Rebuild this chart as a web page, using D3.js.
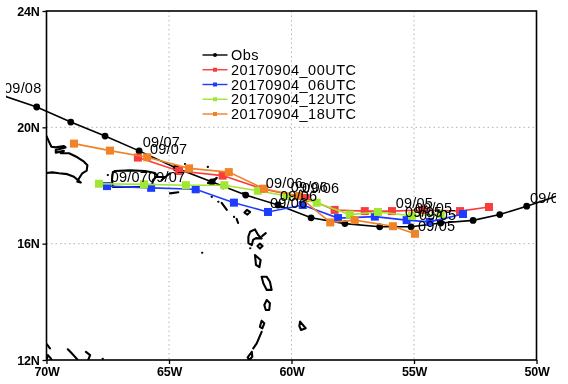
<!DOCTYPE html>
<html>
<head>
<meta charset="utf-8">
<script src="https://cdnjs.cloudflare.com/ajax/libs/d3/7.9.0/d3.min.js"></script>
<style>
  html, body { margin: 0; padding: 0; background: #fff; }
  svg { display: block; filter: blur(0.35px); }
  text { font-family: "Liberation Sans", Arial, sans-serif; fill: #000; }
  .track-label { font-size: 14.5px; letter-spacing: 0.2px; }
  .legend-label { font-size: 14.5px; letter-spacing: 0.5px; }
  .tick text { font-size: 12.5px; font-weight: bold; letter-spacing: -0.2px; }
</style>
</head>
<body>
<svg class="track-map" width="568" height="384"></svg>
<script>
// [lon, lat], west longitude negative
const obsTrack = [[-71.78, 21.09], [-70.40, 20.70], [-69.01, 20.18], [-67.61, 19.70], [-66.22, 19.19], [-64.71, 18.60], [-63.24, 18.12], [-61.87, 17.67], [-60.55, 17.33], [-59.20, 16.89], [-57.82, 16.69], [-56.40, 16.58], [-55.12, 16.58], [-53.91, 16.71], [-52.59, 16.80], [-51.50, 17.00], [-50.40, 17.29], [-49.04, 17.67]];
const track00 = [[-66.27, 18.96], [-64.59, 18.50], [-62.81, 18.34], [-61.16, 17.88], [-59.42, 17.57], [-58.24, 17.16], [-57.01, 17.12], [-55.90, 17.12], [-54.67, 17.16], [-53.12, 17.12], [-51.94, 17.26]];
const track06 = [[-67.53, 17.98], [-65.73, 17.92], [-63.91, 17.87], [-62.35, 17.41], [-60.96, 17.09], [-59.54, 17.33], [-58.10, 16.88], [-56.60, 16.93], [-55.30, 16.81], [-54.36, 16.75], [-53.00, 17.02]];
const track12 = [[-67.86, 18.06], [-66.02, 18.04], [-64.31, 18.01], [-62.74, 18.01], [-61.37, 17.82], [-60.20, 17.64], [-58.97, 17.41], [-57.62, 17.00], [-56.47, 17.09], [-55.08, 16.96], [-53.91, 17.02]];
const track18 = [[-68.88, 19.44], [-67.41, 19.20], [-65.89, 18.97], [-64.18, 18.59], [-62.56, 18.46], [-61.12, 17.89], [-59.72, 17.64], [-58.42, 16.73], [-57.42, 16.81], [-55.86, 16.60], [-54.96, 16.34]];

const seriesNames = ['Obs', '20170904_00UTC', '20170904_06UTC', '20170904_12UTC', '20170904_18UTC'];
const seriesColors = ['#000000', '#fa3c3c', '#1e3cff', '#a0e632', '#f08228'];
const seriesTracks = [obsTrack, track00, track06, track12, track18];

const lonTicks = [-70, -65, -60, -55, -50];
const latTicks = [24, 20, 16, 12];
const lonGrid = [-65, -60, -55];
const latGrid = [20, 16];

// date labels, [text, lon, lat] of the start of the text baseline
const dateLabels = [
  ['09/08', -71.73, 21.19],
  ['09/07', -66.07, 19.32], ['09/07', -65.78, 19.08], ['09/07', -67.38, 18.13], ['09/07', -65.86, 18.13],
  ['09/06', -61.05, 17.90], ['09/06', -60.03, 17.76], ['09/06', -59.57, 17.74], ['09/06', -60.88, 17.23], ['09/06', -60.47, 17.47],
  ['09/05', -55.75, 17.23], ['09/05', -54.96, 17.06], ['09/05', -54.80, 16.81], ['09/05', -54.84, 16.45], ['09/05', -55.37, 16.92],
  ['09/04', -50.27, 17.40]
];

// coast outlines
const coastlines = [
  [[-70.00, 19.70], [-69.90, 19.51], [-69.80, 19.33], [-69.62, 19.31], [-69.29, 19.36], [-69.22, 19.31], [-69.62, 19.22], [-69.62, 19.13], [-69.29, 19.19], [-69.42, 19.11], [-69.08, 19.11], [-68.74, 18.97], [-68.47, 18.82], [-68.33, 18.70], [-68.36, 18.51], [-68.54, 18.42], [-68.67, 18.25], [-68.74, 18.13], [-68.60, 18.10], [-68.88, 18.30], [-69.15, 18.39], [-69.49, 18.42], [-69.76, 18.45], [-70.00, 18.43]],
  [[-67.29, 18.46], [-67.20, 18.50], [-66.59, 18.52], [-65.98, 18.50], [-65.57, 18.43], [-65.49, 18.33], [-65.65, 18.19], [-65.69, 18.02], [-66.18, 17.95], [-66.80, 17.95], [-67.29, 17.95], [-67.33, 18.19], [-67.29, 18.46]],
  [[-65.30, 18.19], [-64.96, 18.42]],
  [[-65.57, 18.29], [-65.16, 18.29]],
  [[-64.96, 17.73], [-64.62, 17.77]],
  [[-67.50, 18.36], [-67.49, 18.36]],
  [[-64.35, 18.74], [-64.34, 18.74]],
  [[-63.42, 18.64], [-63.41, 18.64]],
  [[-63.41, 18.09], [-63.05, 18.26], [-63.30, 18.05], [-63.41, 18.09]],
  [[-62.85, 17.95], [-62.80, 17.90]],
  [[-63.26, 17.61], [-63.25, 17.61]],
  [[-62.99, 17.44], [-62.98, 17.44]],
  [[-62.85, 17.40], [-62.64, 17.16]],
  [[-62.35, 16.92], [-62.34, 16.92]],
  [[-62.24, 16.85], [-62.18, 16.71]],
  [[-61.92, 17.07], [-61.82, 17.16], [-61.69, 17.09], [-61.80, 17.00], [-61.92, 17.07]],
  [[-61.98, 17.74], [-61.78, 17.64]],
  [[-61.76, 16.24], [-61.69, 16.41], [-61.49, 16.49], [-61.36, 16.30], [-61.22, 16.18], [-61.45, 16.19], [-61.57, 16.13], [-61.62, 15.95], [-61.76, 16.02], [-61.76, 16.24]],
  [[-61.20, 16.26], [-61.05, 16.36]],
  [[-61.39, 15.92], [-61.29, 16.00], [-61.18, 15.92], [-61.29, 15.83], [-61.39, 15.92]],
  [[-61.69, 15.84], [-61.68, 15.84]],
  [[-63.65, 15.69], [-63.64, 15.69]],
  [[-61.49, 15.61], [-61.26, 15.44], [-61.31, 15.19], [-61.45, 15.27], [-61.49, 15.61]],
  [[-61.22, 14.86], [-61.01, 14.86], [-60.88, 14.69], [-60.81, 14.41], [-61.01, 14.41], [-61.15, 14.64], [-61.22, 14.86]],
  [[-61.01, 14.06], [-60.88, 13.95], [-60.91, 13.72], [-61.05, 13.72], [-61.11, 13.89], [-61.01, 14.06]],
  [[-61.22, 13.35], [-61.11, 13.26], [-61.19, 13.09], [-61.29, 13.14], [-61.22, 13.35]],
  [[-61.22, 12.97], [-61.42, 12.57], [-61.56, 12.40]],
  [[-61.62, 12.28], [-61.60, 12.11], [-61.73, 12.00], [-61.79, 12.09], [-61.62, 12.28]],
  [[-59.65, 13.32], [-59.42, 13.09], [-59.61, 13.03], [-59.68, 13.17], [-59.65, 13.32]],
  [[-69.99, 12.55], [-69.86, 12.40]],
  [[-70.00, 12.00], [-69.95, 12.17], [-69.83, 12.06], [-69.79, 12.00]],
  [[-69.13, 12.37], [-68.97, 12.23], [-68.74, 12.02]],
  [[-68.39, 12.28], [-68.22, 12.17], [-68.29, 12.02]],
  [[-67.71, 12.04], [-67.70, 12.04]]
];

const frame = { left: 46.5, right: 536.5, top: 11, bottom: 360 };

const x = d3.scaleLinear().domain([-70, -50]).range([frame.left, frame.right]);
const y = d3.scaleLinear().domain([12, 24]).range([frame.bottom, frame.top]);
const line = d3.line().x(d => x(d[0])).y(d => y(d[1]));

const svg = d3.select('.track-map');
const defs = svg.append('defs');

// tracks run past the frame and get cut near the image edge
defs.append('clipPath').attr('id', 'track-clip')
  .append('rect').attr('x', 6).attr('y', 0).attr('width', 550).attr('height', 384);
defs.append('clipPath').attr('id', 'frame-clip')
  .append('rect')
  .attr('x', frame.left).attr('y', frame.top)
  .attr('width', frame.right - frame.left).attr('height', frame.bottom - frame.top);

// grid
const grid = svg.append('g')
  .attr('stroke', '#b4b4b4')
  .attr('stroke-width', 1)
  .attr('stroke-dasharray', '1.5,3');
grid.selectAll('.grid-lon')
  .data(lonGrid)
  .enter()
  .append('line')
  .attr('x1', d => x(d)).attr('x2', d => x(d))
  .attr('y1', frame.top).attr('y2', frame.bottom);
grid.selectAll('.grid-lat')
  .data(latGrid)
  .enter()
  .append('line')
  .attr('x1', frame.left).attr('x2', frame.right)
  .attr('y1', d => y(d)).attr('y2', d => y(d));

// coast
svg.append('g')
  .attr('clip-path', 'url(#frame-clip)')
  .selectAll('path')
  .data(coastlines)
  .enter()
  .append('path')
  .attr('fill', 'none')
  .attr('stroke', '#000')
  .attr('stroke-width', 2.1)
  .attr('stroke-linejoin', 'round')
  .attr('stroke-linecap', 'round')
  .attr('d', line);

// axes and frame
svg.append('rect')
  .attr('x', frame.left).attr('y', frame.top)
  .attr('width', frame.right - frame.left).attr('height', frame.bottom - frame.top)
  .attr('fill', 'none')
  .attr('stroke', '#000')
  .attr('stroke-width', 1.6);

const yAxis = svg.append('g')
  .attr('transform', `translate(${frame.left},0)`)
  .call(d3.axisLeft(y).tickValues(latTicks).tickFormat(d => `${d}N`).tickSize(4).tickPadding(3));
const xAxis = svg.append('g')
  .attr('transform', `translate(0,${frame.bottom})`)
  .call(d3.axisBottom(x).tickValues(lonTicks).tickFormat(d => `${-d}W`).tickSize(4).tickPadding(3));
yAxis.select('.domain').remove();
xAxis.select('.domain').remove();
svg.selectAll('.tick line').attr('stroke', '#000').attr('stroke-width', 1.3);

// tracks, observed on the bottom
const tracks = svg.append('g').attr('clip-path', 'url(#track-clip)');
seriesTracks.forEach((track, i) => {
  const g = tracks.append('g');
  g.append('path')
    .datum(track)
    .attr('fill', 'none')
    .attr('stroke', seriesColors[i])
    .attr('stroke-width', 1.6)
    .attr('d', line);
  if (i === 0) {
    g.selectAll('circle')
      .data(track)
      .enter()
      .append('circle')
      .attr('cx', d => x(d[0]))
      .attr('cy', d => y(d[1]))
      .attr('r', 3.4)
      .attr('fill', seriesColors[i]);
  } else {
    g.selectAll('rect')
      .data(track)
      .enter()
      .append('rect')
      .attr('x', d => x(d[0]) - 4)
      .attr('y', d => y(d[1]) - 4)
      .attr('width', 8)
      .attr('height', 8)
      .attr('fill', seriesColors[i]);
  }
});

// date labels
tracks.selectAll('.track-label')
  .data(dateLabels)
  .enter()
  .append('text')
  .attr('class', 'track-label')
  .attr('x', d => x(d[1]))
  .attr('y', d => y(d[2]))
  .text(d => d[0]);

// legend
const legendRowY = d3.scaleLinear().domain([0, 4]).range([55, 114]);
const legend = svg.append('g')
  .selectAll('g')
  .data(seriesNames)
  .enter()
  .append('g')
  .attr('transform', (d, i) => `translate(0,${legendRowY(i)})`);
legend.append('line')
  .attr('x1', 202.5).attr('x2', 227.5)
  .attr('stroke', (d, i) => seriesColors[i])
  .attr('stroke-width', 1.4);
legend.filter((d, i) => i === 0).append('circle')
  .attr('cx', 215)
  .attr('r', 2)
  .attr('fill', seriesColors[0]);
legend.filter((d, i) => i > 0).append('rect')
  .attr('x', 213).attr('y', -2)
  .attr('width', 4).attr('height', 4)
  .attr('fill', d => seriesColors[seriesNames.indexOf(d)]);
legend.append('text')
  .attr('class', 'legend-label')
  .attr('x', 231)
  .attr('y', 5)
  .text(d => d);
</script>
</body>
</html>
